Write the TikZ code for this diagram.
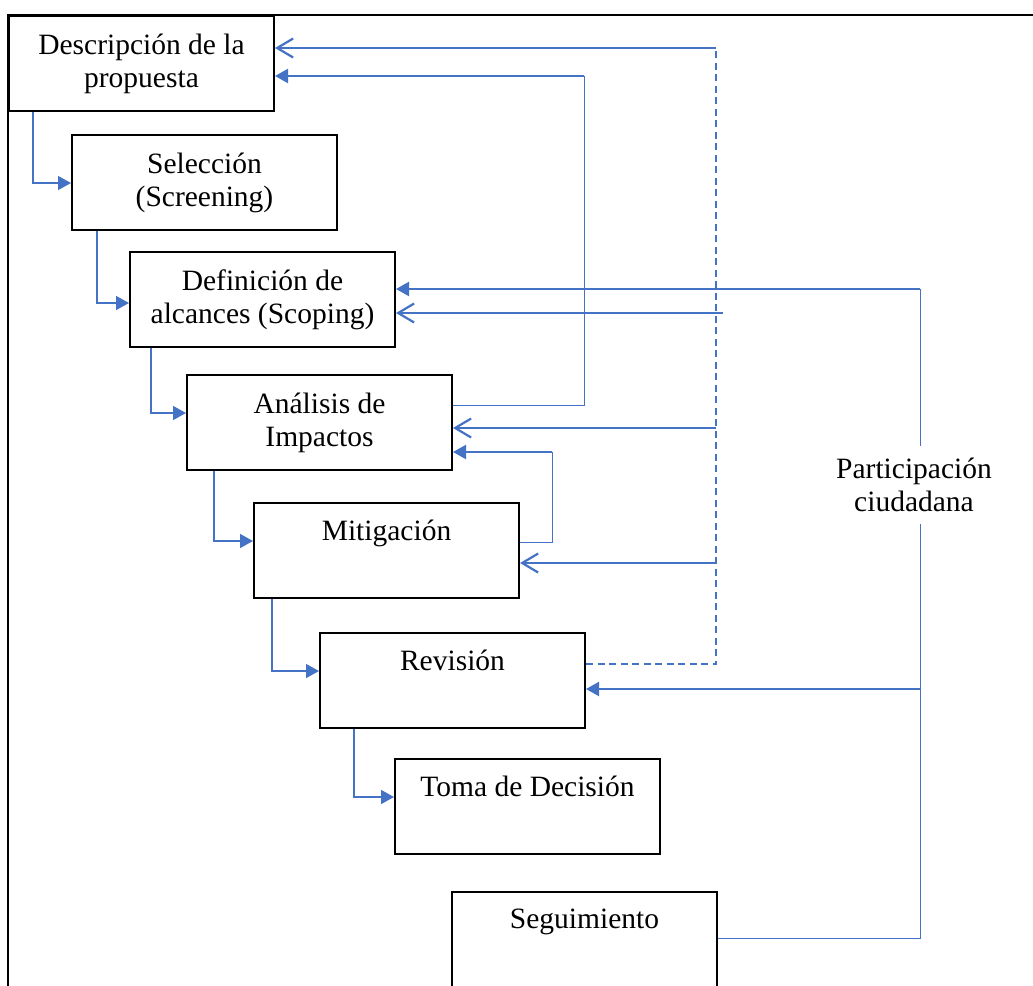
\documentclass[tikz,border=0pt]{standalone}
\usepackage{fontspec}
\setmainfont{Liberation Serif}
\usetikzlibrary{arrows.meta}
\definecolor{cblue}{HTML}{4472C4}

\begin{document}
\begin{tikzpicture}[x=1pt,y=-1pt]
    % --- styles ---
    \tikzset{stagebox/.style={draw,line width=2pt,minimum width=265pt,minimum height=95pt,
        inner sep=0pt,align=center,anchor=north west,font=\fontsize{29.5pt}{33pt}\selectfont},
      stepflow/.style={draw=cblue,line width=1.4pt,-{Triangle[length=13pt,width=14pt]}},
      fillflow/.style={draw=cblue,line width=2.2pt,-{Triangle[length=13pt,width=14pt]}},
      openflow/.style={draw=cblue,line width=2.2pt,-{Straight Barb[length=16pt,width=19pt]}},
      thinline/.style={draw=cblue,line width=1pt},
      dashline/.style={draw=cblue,line width=1.5pt,dash pattern=on 7pt off 4.5pt}}

    \useasboundingbox (0,0) rectangle (1033,985);

    % page frame (top and left only)
    \draw[line width=1.2pt] (1033,15) -- (8,15) -- (8,990);

    % stages, stepping down to the right
    \node[stagebox] (desc)     at (8,15)   {Descripción de la\\propuesta};
    \node[stagebox] (sel)      at (71,134) {Selección\\(Screening)};
    \node[stagebox] (scope)    at (129,251) {Definición de\\alcances (Scoping)};
    \node[stagebox] (impact)   at (186,374) {Análisis de\\Impactos};
    \node[stagebox] (mitig)    at (253,502) {Mitigación\\[-2pt]\strut};
    \node[stagebox] (review)   at (319,632) {Revisión\\[-2pt]\strut};
    \node[stagebox] (decision) at (394,758) {Toma de Decisión\\[-2pt]\strut};
    \node[stagebox] (follow)   at (451,891) {Seguimiento\\[-2pt]\strut};

    % side label
    \node[align=center,inner sep=0pt,inner ysep=12pt,font=\fontsize{29.5pt}{33pt}\selectfont]
      (part) at (914,485) {Participación\\ciudadana};

    % turning points on the right
    \coordinate (dtop)  at (716,48);
    \coordinate (ftop)  at (584,76);
    \coordinate (mloop) at (552,452);
    \coordinate (sopen) at (723,313);
    \coordinate (ptop)  at (920,289);
    \coordinate (pmid)  at (920,689);

    % main sequence (left staircase)
    \draw[stepflow] (desc.south -| 33,0)    |- (sel.west |- 0,183);
    \draw[stepflow] (sel.south -| 97,0)     |- (scope.west |- 0,303);
    \draw[stepflow] (scope.south -| 151,0)  |- (impact.west |- 0,413);
    \draw[stepflow] (impact.south -| 214,0) |- (mitig.west |- 0,541);
    \draw[stepflow] (mitig.south -| 272,0)  |- (review.west |- 0,671);
    \draw[stepflow] (review.south -| 354,0) |- (decision.west |- 0,797);

    % feedback to the proposal
    \draw[dashline] (review.east |- 0,664) -| (dtop);
    \draw[openflow] (dtop) -- (desc.east |- dtop);
    \draw[thinline] (impact.east |- 0,405) -| (ftop);
    \draw[fillflow] (ftop) -- (desc.east |- ftop);

    % inner loops
    \draw[openflow] (sopen) -- (scope.east |- sopen);
    \draw[openflow] (dtop |- 0,428) -- (impact.east |- 0,428);
    \draw[thinline] (mitig.east |- 0,542) -| (mloop);
    \draw[fillflow] (mloop) -- (impact.east |- mloop);
    \draw[openflow,{Straight Barb[length=16pt,width=19pt]}-] (mitig.east |- 0,563) -- (dtop |- 0,563);

    % citizen participation
    \draw[fillflow] (ptop) -- (scope.east |- ptop);
    \draw[thinline] (ptop) -- (part.north -| ptop);
    \draw[thinline] (part.south -| ptop) |- (follow.east |- 0,938);
    \draw[fillflow] (pmid) -- (review.east |- pmid);
\end{tikzpicture}
\end{document}
